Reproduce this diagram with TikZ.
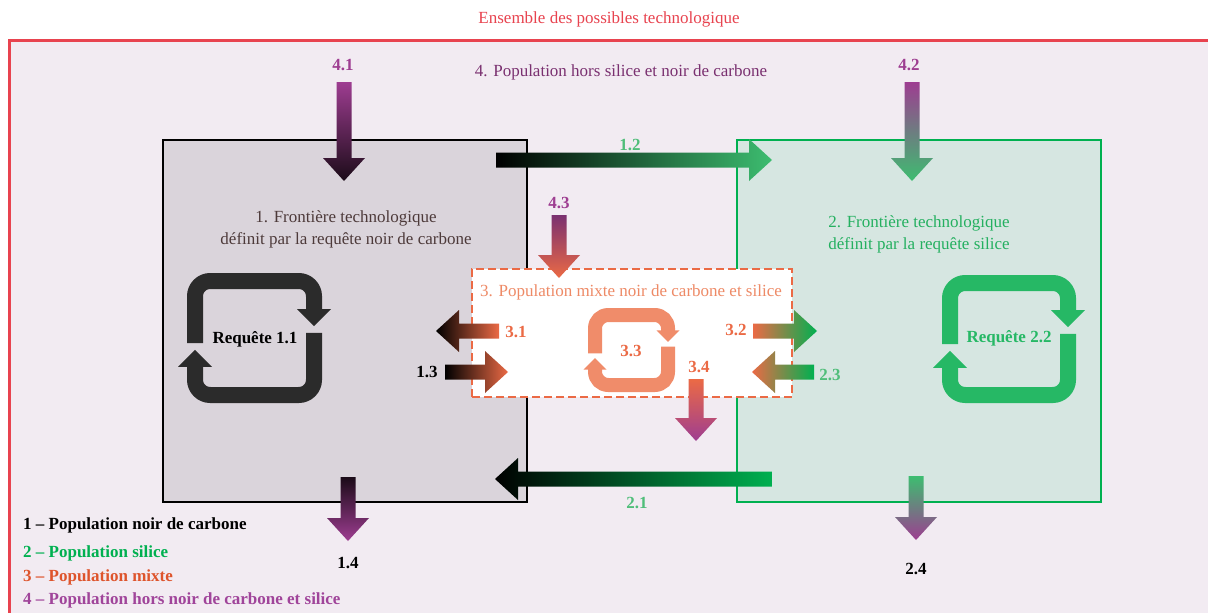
\documentclass[tikz,border=0pt]{standalone}
\usepackage{fontspec}
\setmainfont{Liberation Serif}
\usetikzlibrary{calc, positioning}

\definecolor{cadre}{RGB}{232,67,79}
\definecolor{fond}{RGB}{242,235,242}
\definecolor{fondnoir}{RGB}{218,212,219}
\definecolor{fondsilice}{RGB}{214,230,225}
\definecolor{vert}{RGB}{0,176,80}
\definecolor{vertclair}{RGB}{61,189,112}
\definecolor{vertlabel}{RGB}{80,190,122}
\definecolor{vertloop}{RGB}{38,184,101}
\definecolor{vertfront}{RGB}{36,176,96}
\definecolor{popviolet}{RGB}{158,61,145}
\definecolor{violetfonce}{RGB}{122,48,112}
\definecolor{mixorange}{RGB}{235,106,69}
\definecolor{saumon}{RGB}{240,140,106}
\definecolor{titremixte}{RGB}{238,138,102}
\definecolor{brunnoir}{RGB}{77,58,58}
\definecolor{noirloop}{RGB}{43,43,43}
\definecolor{sombre}{RGB}{27,11,24}
\definecolor{legmixte}{RGB}{222,84,44}
\definecolor{legviolet}{RGB}{160,68,154}

% fat shaded arrow between two named coordinates
\newcommand{\blockarrow}[3][]{%
  \coordinate (tiphead) at ($(#3)!23pt!(#2)$);
  \shade[#1] ($(#2)!7.5pt!90:(#3)$) -- ($(tiphead)!7.5pt!90:(#3)$)
    -- ($(tiphead)!21pt!90:(#3)$) -- (#3) -- ($(tiphead)!21pt!-90:(#3)$)
    -- ($(tiphead)!7.5pt!-90:(#3)$) -- ($(#2)!7.5pt!-90:(#3)$) -- cycle;}

% loop icon: centre x, centre y, half width, half height, stroke, head, colour
\newcommand{\loopicon}[7]{%
  \pgfmathsetmacro\icxl{#1-#3}%
  \pgfmathsetmacro\icxr{#1+#3}%
  \pgfmathsetmacro\icyt{#2-#4}%
  \pgfmathsetmacro\icyb{#2+#4}%
  \pgfmathsetmacro\ichb{1.7*#6}%
  \pgfmathsetmacro\ictp{0.7*#6}%
  \pgfmathsetmacro\icst{0.3*#6}%
  \pgfmathsetmacro\icrc{0.95*#5}%
  \draw[#7, line width=#5pt, rounded corners=\icrc pt]
    (\icxl,#2+\icst) -- (\icxl,\icyt) -- (\icxr,\icyt) -- (\icxr,#2-\ichb+0.5);
  \fill[#7] (\icxr-#6,#2-\ichb) -- (\icxr+#6,#2-\ichb) -- (\icxr,#2-\ictp) -- cycle;
  \draw[#7, line width=#5pt, rounded corners=\icrc pt]
    (\icxr,#2-\icst) -- (\icxr,\icyb) -- (\icxl,\icyb) -- (\icxl,#2+\ichb-0.5);
  \fill[#7] (\icxl-#6,#2+\ichb) -- (\icxl+#6,#2+\ichb) -- (\icxl,#2+\ictp) -- cycle;}

\begin{document}
\begin{tikzpicture}[x=1pt, y=-1pt,
    every node/.style={font=\fontsize{17}{22}\selectfont, inner sep=1pt},
    frontier/.style={draw, line width=2pt, inner sep=0pt},
    mixte/.style={draw=mixorange, fill=white, line width=2.5pt, inner sep=0pt,
      dash pattern=on 8pt off 4pt},
    flowlabel/.style={font=\fontsize{17}{22}\selectfont\bfseries},
    legend/.style={anchor=west, font=\fontsize{17}{22}\selectfont\bfseries}]
  \useasboundingbox (0,0) rectangle (1208,613);
  \fill[white] (0,0) rectangle (1208,613);
  \clip (0,0) rectangle (1208,613);

  % Ensemble des possibles
  \node[text=cadre] (titre) at (609,19) {Ensemble des possibles technologique};
  \draw[cadre, line width=3pt, fill=fond] (9,40) rectangle (1240,640);
  \node[text=violetfonce] (pop4) at (621,72) {4. Population hors silice et noir de carbone};

  % Frontiere 1
  \node[frontier, draw=black, fill=fondnoir, minimum width=364, minimum height=362] (front1) at (345,321) {};
  \node[text=brunnoir, align=center] (titre1) at (346,229) {1. Frontière technologique\\définit par la requête noir de carbone};

  % Frontiere 2
  \node[frontier, draw=vert, fill=fondsilice, minimum width=364, minimum height=362] (front2) at (919,321) {};
  \node[text=vertfront, align=center] (titre2) at (919,234) {2. Frontière technologique\\définit par la requête silice};

  % Population mixte
  \node[mixte, minimum width=320, minimum height=128] (front3) at (632,333) {};
  \node[text=titremixte] (titre3) at (631,292) {3. Population mixte noir de carbone et silice};

  % Requetes
  \loopicon{254.5}{338}{59.5}{57}{16}{17}{noirloop}
  \loopicon{1009}{339}{59}{56}{16}{17}{vertloop}
  \loopicon{631.5}{350}{36.5}{35}{14}{11.5}{saumon}
  \node[flowlabel] (req1) at (255,339) {Requête 1.1};
  \node[flowlabel, text=vertloop] (req2) at (1009,338) {Requête 2.2};
  \node[flowlabel, text=mixorange] (req3) at (631,351) {3.3};

  % Flux
  \coordinate (f41s) at (344,82);  \coordinate (f41e) at (344,181);
  \coordinate (f42s) at (912,82);  \coordinate (f42e) at (912,181);
  \coordinate (f43s) at (559,215); \coordinate (f43e) at (559,278);
  \coordinate (f12s) at (496,160); \coordinate (f12e) at (772,160);
  \coordinate (f21s) at (772,479); \coordinate (f21e) at (495,479);
  \coordinate (f31s) at (499,331); \coordinate (f31e) at (436,331);
  \coordinate (f13s) at (445,372); \coordinate (f13e) at (508,372);
  \coordinate (f32s) at (753,331); \coordinate (f32e) at (817,331);
  \coordinate (f23s) at (814,372); \coordinate (f23e) at (752,372);
  \coordinate (f34s) at (696,379); \coordinate (f34e) at (696,441);
  \coordinate (f14s) at (348,477); \coordinate (f14e) at (348,541);
  \coordinate (f24s) at (916,476); \coordinate (f24e) at (916,540);

  \blockarrow[top color=popviolet, bottom color=sombre]{f41s}{f41e}
  \blockarrow[top color=popviolet, bottom color=vertclair]{f42s}{f42e}
  \blockarrow[top color=violetfonce, bottom color=mixorange]{f43s}{f43e}
  \blockarrow[left color=black, right color=vertclair]{f12s}{f12e}
  \blockarrow[left color=black, right color=vert]{f21s}{f21e}
  \blockarrow[left color=black, right color=mixorange]{f31s}{f31e}
  \blockarrow[left color=black, right color=mixorange]{f13s}{f13e}
  \blockarrow[left color=mixorange, right color=vert]{f32s}{f32e}
  \blockarrow[left color=mixorange, right color=vert]{f23s}{f23e}
  \blockarrow[top color=mixorange, bottom color=popviolet]{f34s}{f34e}
  \blockarrow[top color=sombre, bottom color=popviolet]{f14s}{f14e}
  \blockarrow[top color=vertclair, bottom color=popviolet]{f24s}{f24e}

  \node[flowlabel, text=popviolet] (l41) at (343,65) {4.1};
  \node[flowlabel, text=popviolet] (l42) at (909,65) {4.2};
  \node[flowlabel, text=popviolet] (l43) at (559,203) {4.3};
  \node[flowlabel, text=vertlabel] (l12) at (630,145) {1.2};
  \node[flowlabel, text=vertlabel] (l21) at (637,503) {2.1};
  \node[flowlabel, text=mixorange] (l31) at (516,332) {3.1};
  \node[flowlabel] (l13) at (427,372) {1.3};
  \node[flowlabel, text=mixorange] (l32) at (736,330) {3.2};
  \node[flowlabel, text=vertlabel] (l23) at (830,375) {2.3};
  \node[flowlabel, text=mixorange] (l34) at (699,367) {3.4};
  \node[flowlabel] (l14) at (348,563) {1.4};
  \node[flowlabel] (l24) at (916,569) {2.4};

  % Legende
  \node[legend] (leg1) at (22,525) {1 -- Population noir de carbone};
  \node[legend, text=vert] (leg2) at (22,553) {2 -- Population silice};
  \node[legend, text=legmixte] (leg3) at (22,577) {3 -- Population mixte};
  \node[legend, text=legviolet] (leg4) at (22,600) {4 -- Population hors noir de carbone et silice};
\end{tikzpicture}
\end{document}
